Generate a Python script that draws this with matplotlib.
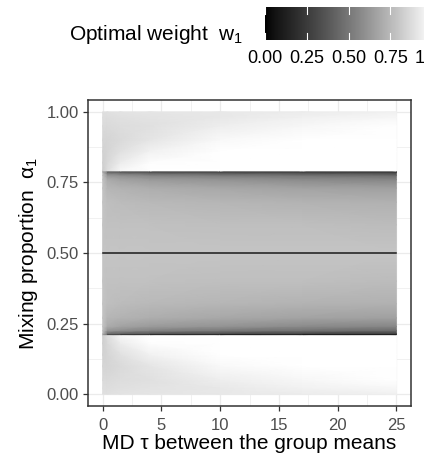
import numpy as np
import matplotlib
matplotlib.use("Agg")
import matplotlib.pyplot as plt
from matplotlib.colors import ListedColormap

plt.rcParams["font.family"] = ["Liberation Sans", "DejaVu Sans"]
plt.rcParams["mathtext.fontset"] = "custom"
plt.rcParams["mathtext.rm"] = "Liberation Sans"
plt.rcParams["mathtext.it"] = "Liberation Sans:italic"

tau_pts = [0, 0.4, 1.5, 4, 10, 17, 25]
# upper half of alpha_1 (the map is symmetric about 0.5)
alpha_upper = [0.5, 0.6, 0.68, 0.73, 0.76, 0.775, 0.785, 0.789,
               0.791, 0.82, 0.86, 0.9, 0.95, 0.98, 1.0]
# optimal weight w1, one row per tau, columns follow alpha_upper
w_upper = [
    [0.79, 0.79, 0.79, 0.79, 0.79, 0.79, 0.79, 0.78, 0.82, 0.83, 0.84, 0.85, 0.87, 0.88, 0.89],
    [0.79, 0.78, 0.77, 0.74, 0.70, 0.62, 0.48, 0.35, 0.88, 0.86, 0.85, 0.85, 0.87, 0.88, 0.89],
    [0.79, 0.78, 0.76, 0.73, 0.67, 0.59, 0.43, 0.25, 0.97, 0.93, 0.89, 0.87, 0.88, 0.89, 0.90],
    [0.79, 0.78, 0.75, 0.71, 0.64, 0.55, 0.38, 0.18, 1.00, 0.99, 0.95, 0.91, 0.89, 0.90, 0.91],
    [0.79, 0.77, 0.74, 0.69, 0.61, 0.51, 0.34, 0.14, 1.00, 1.00, 1.00, 0.98, 0.94, 0.92, 0.92],
    [0.79, 0.77, 0.73, 0.67, 0.58, 0.48, 0.31, 0.12, 1.00, 1.00, 1.00, 1.00, 0.97, 0.95, 0.93],
    [0.79, 0.76, 0.72, 0.66, 0.56, 0.45, 0.28, 0.10, 1.00, 1.00, 1.00, 1.00, 1.00, 0.97, 0.95],
]

x_ticks = [0, 5, 10, 15, 20, 25]
y_ticks = [0.0, 0.25, 0.5, 0.75, 1.0]
cbar_ticks = [0.0, 0.25, 0.5, 0.75, 1.0]


def lab_gray(L):
    # L* (0-100) -> sRGB gray, like ggplot's Lab interpolation black->white
    L = np.asarray(L, dtype=float)
    Y = np.where(L > 8, ((L + 16) / 116) ** 3, L / 903.3)
    s = np.where(Y > 0.0031308, 1.055 * Y ** (1 / 2.4) - 0.055, 12.92 * Y)
    return np.clip(s, 0, 1)


g = lab_gray(np.linspace(0, 100, 256))
cmap = ListedColormap(np.column_stack([g, g, g]))

au = np.array(alpha_upper)
wu = np.array(w_upper)
alpha_full = np.concatenate([1 - au[::-1][:-1], au])
w_full = np.concatenate([wu[:, ::-1][:, :-1], wu], axis=1)
T, A = np.meshgrid(tau_pts, alpha_full, indexing="ij")

fig = plt.figure(figsize=(4.24, 4.62), dpi=100)
ax = fig.add_axes([88 / 424, 1 - 406 / 462, 323 / 424, 306 / 462])

for v in np.arange(0, 26.5, 2.5):
    ax.axvline(v, color="#ebebeb", lw=0.9 if v % 5 == 0 else 0.5, zorder=0)
for v in np.arange(0, 1.01, 0.125):
    ax.axhline(v, color="#ebebeb", lw=0.9 if (v * 4) % 1 == 0 else 0.5, zorder=0)

ax.pcolormesh(T, A, w_full, cmap=cmap, vmin=0, vmax=1, shading="gouraud", zorder=1)
ax.axhline(0.5, color="#1a1a1a", lw=1.1, xmin=(0 + 1.25) / 27.5, xmax=(25 + 1.25) / 27.5, zorder=2)

ax.set_xlim(-1.25, 26.25)
ax.set_ylim(-0.042, 1.042)
ax.set_xticks(x_ticks)
ax.set_xticklabels([str(v) for v in x_ticks])
ax.set_yticks(y_ticks)
ax.set_yticklabels([f"{v:.2f}" for v in y_ticks])
ax.tick_params(colors="#333333", labelcolor="#4d4d4d", labelsize=12, length=3.5, width=0.9, pad=3)
ax.tick_params(axis="x", pad=5)
for sp in ax.spines.values():
    sp.set_color("#333333")
    sp.set_linewidth(1.1)
ax.set_xlabel("MD \u03c4 between the group means", fontsize=15, labelpad=1)
ax.set_ylabel(r"Mixing proportion  $\mathregular{\alpha_1}$", fontsize=15, labelpad=5)

# colorbar legend on top (extends past the right edge like the original)
cax = fig.add_axes([265 / 424, 1 - 40 / 462, 167 / 424, 33 / 462])
grad = np.linspace(0, 1, 300).reshape(1, -1)
cax.imshow(grad, cmap=cmap, vmin=0, vmax=1, aspect="auto", extent=[0, 1, 0, 1])
cax.set_xlim(0, 1)
cax.set_ylim(0, 1)
for t in cbar_ticks:
    cax.plot([t, t], [0, 0.2], color="white", lw=0.8)
    cax.plot([t, t], [0.8, 1], color="white", lw=0.8)
cax.set_yticks([])
cax.set_xticks(cbar_ticks)
cax.set_xticklabels([f"{v:.2f}" for v in cbar_ticks])
cax.tick_params(length=0, labelsize=13, pad=7, labelcolor="black")
for sp in cax.spines.values():
    sp.set_visible(False)

fig.text(243 / 424, 1 - 35 / 462, r"Optimal weight  $\mathregular{w_1}$",
         ha="right", va="center", fontsize=15)

fig.savefig("out.png", dpi=100)
